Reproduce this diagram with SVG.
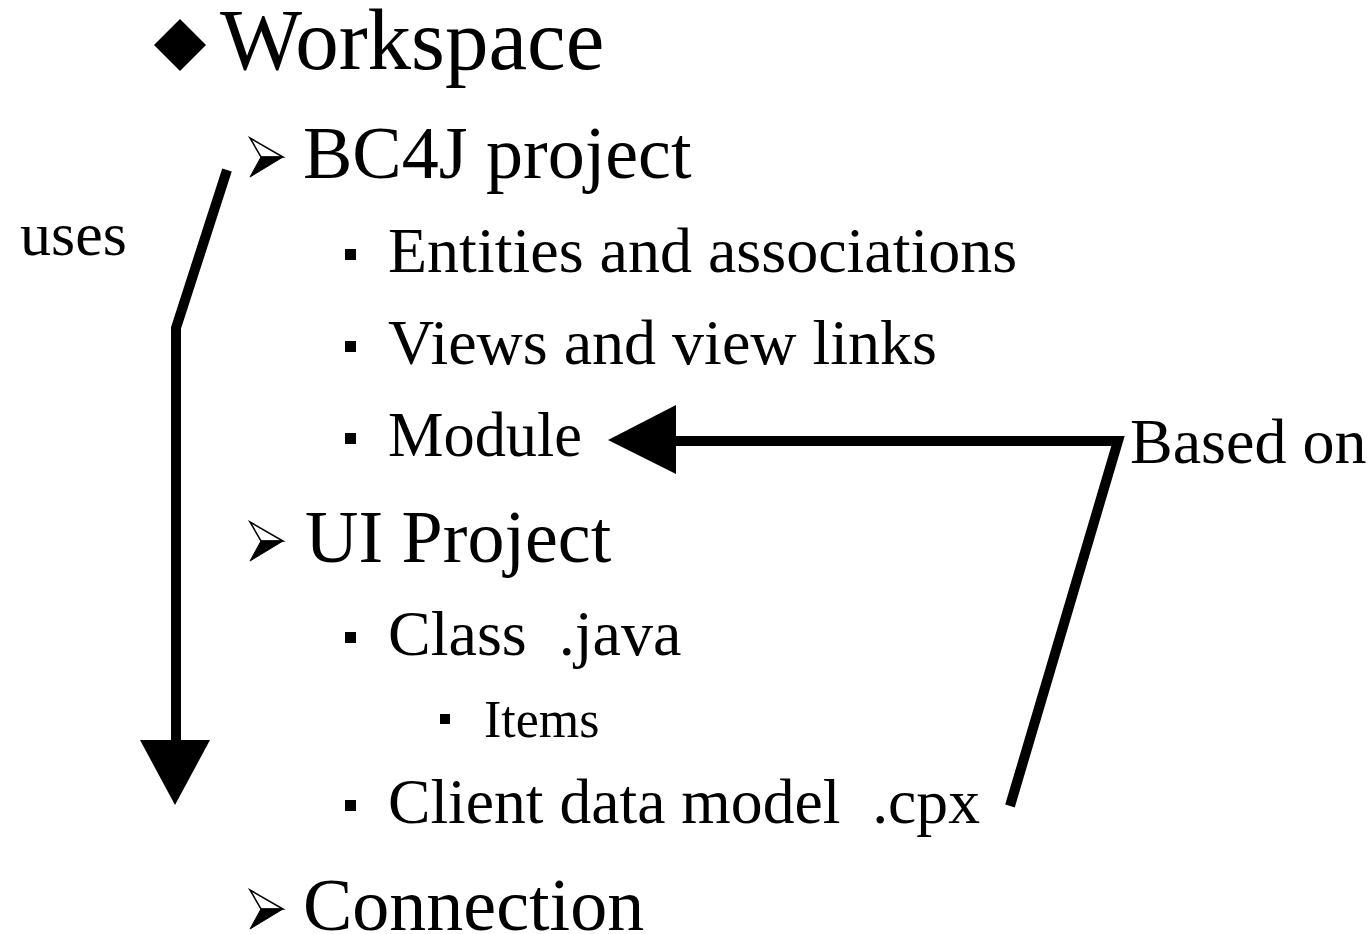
<svg xmlns="http://www.w3.org/2000/svg" width="1372" height="934" viewBox="0 0 1372 934">
<style>
text{font-family:"Liberation Serif","Times New Roman",serif;fill:#000;white-space:pre}
.l0{font-size:87px}.l1{font-size:74px}.l2{font-size:64px}.l3{font-size:52px}
.conn{fill:none;stroke:#000;stroke-width:10;stroke-linejoin:miter}
.sq{fill:#000}
</style>
<defs>
<g id="arrowBullet">
<polygon points="0,0 33,19 11,19" fill="#fff" stroke="#000" stroke-width="1.5" stroke-linejoin="miter"/>
<polygon points="11,19 33,19 0,39" fill="#000" stroke="#000" stroke-width="1"/>
</g>
</defs>
<rect width="1372" height="934" fill="#fff"/>
<g id="workspace">
<polygon points="180,19 206,45 180,71 154,45" fill="#000"/>
<text class="l0" x="220" y="69">Workspace</text>
</g>
<g id="bc4j">
<use href="#arrowBullet" x="250" y="138"/>
<text class="l1" x="303" y="178">BC4J project</text>
</g>
<g id="entities">
<rect class="sq" x="345" y="249" width="11" height="11"/>
<text class="l2" x="388" y="272">Entities and associations</text>
</g>
<g id="views">
<rect class="sq" x="345" y="341" width="11" height="11"/>
<text class="l2" x="388" y="364">Views and view links</text>
</g>
<g id="module">
<rect class="sq" x="345" y="433" width="11" height="11"/>
<text class="l2" x="388" y="456" textLength="194" lengthAdjust="spacingAndGlyphs">Module</text>
</g>
<g id="uiproject">
<use href="#arrowBullet" x="250" y="522"/>
<text class="l1" x="305" y="562">UI Project</text>
</g>
<g id="class">
<rect class="sq" x="345" y="632" width="11" height="11"/>
<text class="l2" x="388" y="655">Class  .java</text>
</g>
<g id="items">
<rect class="sq" x="440" y="714" width="10" height="10"/>
<text class="l3" x="484" y="737">Items</text>
</g>
<g id="client">
<rect class="sq" x="345" y="800" width="11" height="11"/>
<text class="l2" x="388" y="823" textLength="592" lengthAdjust="spacingAndGlyphs">Client data model  .cpx</text>
</g>
<g id="connection">
<use href="#arrowBullet" x="250" y="890"/>
<text class="l1" x="303" y="930">Connection</text>
</g>
<g id="connectors">
<polyline class="conn" points="227,170 176,328 176,745"/>
<polygon points="140,740 210,740 175,805" fill="#000"/>
<polyline class="conn" points="1010,806 1118,441 670,441"/>
<polygon points="676,405 676,474 608,440" fill="#000"/>
<text class="l2" x="20" y="255" style="font-size:62px">uses</text>
<text class="l2" x="1130" y="463">Based on</text>
</g>
</svg>
